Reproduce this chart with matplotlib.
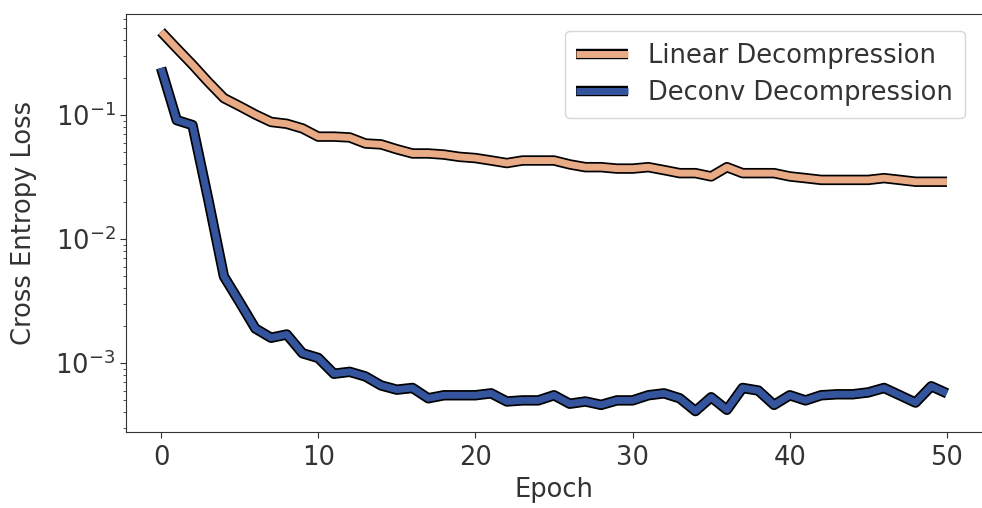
import matplotlib
matplotlib.use("Agg")
import matplotlib.pyplot as plt
import matplotlib.patheffects as pe
import numpy as np

epochs = np.arange(51)

linear_loss = [0.47, 0.345, 0.255, 0.185, 0.137, 0.118, 0.101, 0.088, 0.085, 0.078,
               0.067, 0.067, 0.066, 0.059, 0.058, 0.053, 0.049, 0.049, 0.048, 0.046,
               0.045, 0.043, 0.041, 0.043, 0.043, 0.043, 0.040, 0.038, 0.038, 0.037,
               0.037, 0.038, 0.036, 0.034, 0.034, 0.032, 0.038, 0.034, 0.034, 0.034,
               0.032, 0.031, 0.030, 0.030, 0.030, 0.030, 0.031, 0.030, 0.029, 0.029,
               0.029]

deconv_loss = [0.24, 0.091, 0.083, 0.021, 0.005, 0.0031, 0.0019, 0.0016, 0.0017, 0.0012,
               0.0011, 0.00082, 0.00085, 0.00078, 0.00066, 0.00061, 0.00063, 0.00052, 0.00055, 0.00055,
               0.00055, 0.00057, 0.00049, 0.0005, 0.0005, 0.00055, 0.00047, 0.00049, 0.00046, 0.0005,
               0.0005, 0.00055, 0.00057, 0.00052, 0.00041, 0.00053, 0.00042, 0.00063, 0.0006, 0.00046,
               0.00055, 0.0005, 0.00055, 0.00056, 0.00056, 0.00058, 0.00063, 0.00055, 0.00048, 0.00065,
               0.00057]

text_color = "#333333"
plt.rcParams["text.color"] = text_color
plt.rcParams["axes.labelcolor"] = text_color
plt.rcParams["xtick.color"] = text_color
plt.rcParams["ytick.color"] = text_color

fig = plt.figure(figsize=(9.82, 5.08), dpi=100)
ax = fig.add_axes([0.1283, 0.1496, 0.8717, 0.8228])

outline = [pe.Stroke(linewidth=7.5, foreground="black"), pe.Normal()]
ax.plot(epochs, linear_loss, color="#e9aa86", lw=5, label="Linear Decompression",
        path_effects=outline, solid_capstyle="butt")
ax.plot(epochs, deconv_loss, color="#34559e", lw=5, label="Deconv Decompression",
        path_effects=outline, solid_capstyle="butt")

ax.set_yscale("log")
ax.set_xlim(-2.23, 52.23)
ax.set_ylim(2.78e-4, 0.653)
ax.set_xticks([0, 10, 20, 30, 40, 50])

fs = 18.5
ax.set_xlabel("Epoch", fontsize=fs, labelpad=5)
ax.set_ylabel("Cross Entropy Loss", fontsize=fs, labelpad=13)
ax.tick_params(axis="both", which="major", labelsize=fs, length=4, width=0.8)
ax.tick_params(axis="x", which="major", pad=5)
ax.tick_params(axis="y", which="minor", length=2.5, width=0.6)
ax.spines["right"].set_visible(False)
for s in ["left", "bottom", "top"]:
    ax.spines[s].set_color("#333333")

ax.legend(loc="upper right", fontsize=fs, bbox_to_anchor=(0.995, 0.99),
          handlelength=2.0, borderpad=0.45, labelspacing=0.45)

fig.savefig("out.png", dpi=100)
